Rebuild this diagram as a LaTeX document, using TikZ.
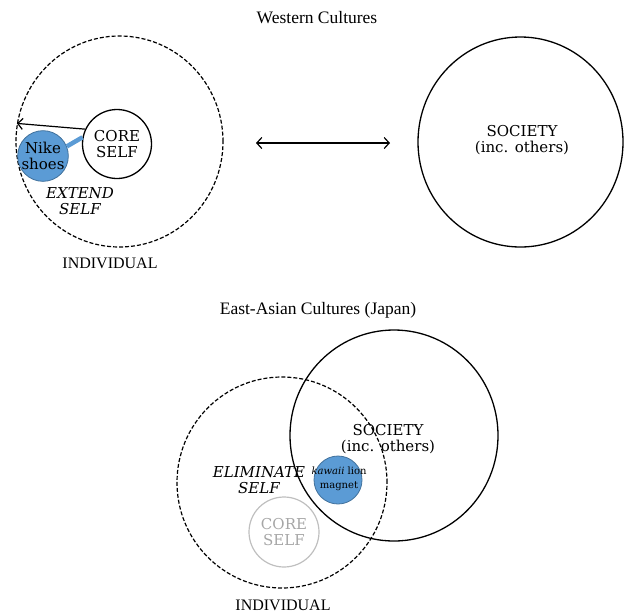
\documentclass[tikz,border=0pt]{standalone}
\usepackage{fontspec}
\setmainfont{Liberation Serif}
\newfontfamily\lblfont{DejaVu Serif}
\usetikzlibrary{arrows.meta,shapes.geometric}
\definecolor{nikeblue}{HTML}{5B9BD5}
\definecolor{nikeedge}{HTML}{41719C}
\definecolor{ghost}{HTML}{BFBFBF}
\definecolor{ghosttext}{HTML}{A6A6A6}
\begin{document}
\begin{tikzpicture}[x=1pt,y=-1pt,
  lbl/.style={font=\lblfont\fontsize{15}{15.5}\selectfont, align=center, inner sep=0},
  ttl/.style={font=\fontsize{17.5}{20}\selectfont, inner sep=0},
  indlbl/.style={font=\fontsize{16}{18}\selectfont, inner sep=0},
  ring/.style 2 args={ellipse, draw=black, line width=1.3pt, inner sep=0, minimum width=#1, minimum height=#2},
  dring/.style 2 args={ellipse, draw=black, line width=1.2pt, dash pattern=on 4pt off 2pt, inner sep=0, minimum width=#1, minimum height=#2},
  bluedot/.style={circle, fill=nikeblue, draw=nikeedge, line width=0.8pt, inner sep=0, minimum size=#1},
  barb/.style={-{Straight Barb[length=5pt,width=11pt,line width=1.2pt]}, line width=1.2pt},
  dbarb/.style={{Straight Barb[length=5pt,width=11pt,line width=1.2pt]}-{Straight Barb[length=5pt,width=11pt,line width=1.2pt]}, line width=1.2pt}
]
\useasboundingbox (0,0) rectangle (629,614);

% ---------- Western ----------
\node[ttl] (wtitle) at (317,18) {Western Cultures};
\node[dring={207pt}{211pt}] (ind) at (119.5,141.5) {};
\node[circle, draw=black, line width=1.3pt, inner sep=0, minimum size=69pt] (core) at (117,144) {};
\node[lbl] (coretxt) at (117,144) {CORE\\SELF};
\node[bluedot=46pt, lbl] (nike) at (43,156) {Nike\\shoes};
\draw[nikeblue, line width=4.5pt] (core.169) -- (nike.22);
\draw[barb] (core.155) -- (ind.170);
\node[lbl, font=\lblfont\itshape\fontsize{15}{15.5}\selectfont] (extend) at (80,201) {EXTEND\\SELF};
\node[indlbl] (indtxt) at (110,263) {INDIVIDUAL};

\node[ring={205pt}{210pt}] (soc) at (520.5,142) {};
\node[lbl] (soctxt) at (522,140) {SOCIETY\\(inc. others)};

\coordinate (la) at (256,143);
\coordinate (ra) at (390,143);
\draw[dbarb] (la) -- (ra);

% ---------- East-Asian ----------
\node[ttl] (etitle) at (318,310) {East-Asian Cultures (Japan)};
\node[ring={208pt}{211pt}] (soc2) at (394,435.5) {};
\node[lbl] (soc2txt) at (388,439) {SOCIETY\\(inc. others)};
\node[dring={210pt}{211pt}] (ind2) at (282,482.5) {};
\node[circle, draw=ghost, line width=1.2pt, inner sep=0, minimum size=70pt] (core2) at (284,532) {};
\node[lbl, text=ghosttext] (core2txt) at (284,532) {CORE\\SELF};
\node[bluedot=48pt] (lion) at (338,480) {};
\node[lbl, font=\lblfont\fontsize{10}{14}\selectfont] (liontxt) at (339,479) {\textit{kawaii} lion\\magnet};
\node[lbl, font=\lblfont\itshape\fontsize{15}{15.5}\selectfont] (elim) at (259,480) {ELIMINATE\\SELF};
\node[indlbl] (ind2txt) at (283,605) {INDIVIDUAL};
\end{tikzpicture}
\end{document}
